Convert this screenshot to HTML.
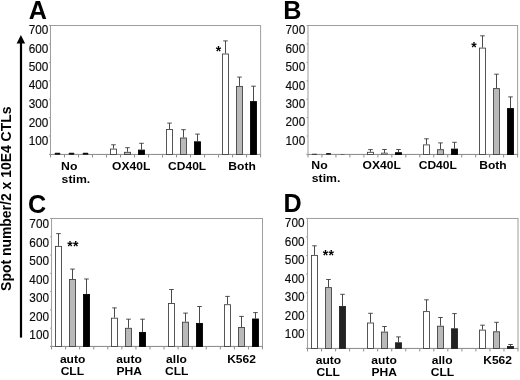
<!DOCTYPE html>
<html lang="en"><head><meta charset="utf-8"><title>Figure</title>
<style>
html,body{margin:0;padding:0;background:#fff;}
body{width:520px;height:380px;overflow:hidden;}
svg{display:block;filter:blur(0.25px);}
svg text{font-family:"Liberation Sans", sans-serif;}
</style></head><body>
<svg width="520" height="380" viewBox="0 0 520 380">
<rect width="520" height="380" fill="#fff"/>
<g class="chart" id="chartA">
<rect x="50.50" y="25.50" width="210.10" height="128.95" fill="none" stroke="#9e9e9e" stroke-width="1"/>
<line x1="49.00" y1="154.45" x2="260.60" y2="154.45" stroke="#909090" stroke-width="1"/>
<line x1="50.50" y1="154.45" x2="50.50" y2="157.45" stroke="#8c8c8c" stroke-width="1"/>
<line x1="64.51" y1="154.45" x2="64.51" y2="157.45" stroke="#8c8c8c" stroke-width="1"/>
<line x1="78.51" y1="154.45" x2="78.51" y2="157.45" stroke="#8c8c8c" stroke-width="1"/>
<line x1="92.52" y1="154.45" x2="92.52" y2="157.45" stroke="#8c8c8c" stroke-width="1"/>
<line x1="106.53" y1="154.45" x2="106.53" y2="157.45" stroke="#8c8c8c" stroke-width="1"/>
<line x1="120.53" y1="154.45" x2="120.53" y2="157.45" stroke="#8c8c8c" stroke-width="1"/>
<line x1="134.54" y1="154.45" x2="134.54" y2="157.45" stroke="#8c8c8c" stroke-width="1"/>
<line x1="148.55" y1="154.45" x2="148.55" y2="157.45" stroke="#8c8c8c" stroke-width="1"/>
<line x1="162.55" y1="154.45" x2="162.55" y2="157.45" stroke="#8c8c8c" stroke-width="1"/>
<line x1="176.56" y1="154.45" x2="176.56" y2="157.45" stroke="#8c8c8c" stroke-width="1"/>
<line x1="190.57" y1="154.45" x2="190.57" y2="157.45" stroke="#8c8c8c" stroke-width="1"/>
<line x1="204.57" y1="154.45" x2="204.57" y2="157.45" stroke="#8c8c8c" stroke-width="1"/>
<line x1="218.58" y1="154.45" x2="218.58" y2="157.45" stroke="#8c8c8c" stroke-width="1"/>
<line x1="232.59" y1="154.45" x2="232.59" y2="157.45" stroke="#8c8c8c" stroke-width="1"/>
<line x1="246.59" y1="154.45" x2="246.59" y2="157.45" stroke="#8c8c8c" stroke-width="1"/>
<line x1="260.60" y1="154.45" x2="260.60" y2="157.45" stroke="#8c8c8c" stroke-width="1"/>
<line x1="49.00" y1="154.45" x2="50.50" y2="154.45" stroke="#9a9a9a" stroke-width="0.9"/>
<line x1="49.00" y1="136.03" x2="50.50" y2="136.03" stroke="#9a9a9a" stroke-width="0.9"/>
<line x1="49.00" y1="117.61" x2="50.50" y2="117.61" stroke="#9a9a9a" stroke-width="0.9"/>
<line x1="49.00" y1="99.19" x2="50.50" y2="99.19" stroke="#9a9a9a" stroke-width="0.9"/>
<line x1="49.00" y1="80.76" x2="50.50" y2="80.76" stroke="#9a9a9a" stroke-width="0.9"/>
<line x1="49.00" y1="62.34" x2="50.50" y2="62.34" stroke="#9a9a9a" stroke-width="0.9"/>
<line x1="49.00" y1="43.92" x2="50.50" y2="43.92" stroke="#9a9a9a" stroke-width="0.9"/>
<line x1="49.00" y1="25.50" x2="50.50" y2="25.50" stroke="#9a9a9a" stroke-width="0.9"/>
<rect x="54.70" y="152.75" width="5.60" height="2.00" rx="0.7" fill="#111"/>
<rect x="68.70" y="152.75" width="5.60" height="2.00" rx="0.7" fill="#111"/>
<rect x="82.70" y="152.75" width="5.60" height="2.00" rx="0.7" fill="#111"/>
<line x1="113.50" y1="144.80" x2="113.50" y2="148.60" stroke="#4a4a4a" stroke-width="1"/>
<line x1="111.20" y1="144.80" x2="115.80" y2="144.80" stroke="#3c3c3c" stroke-width="0.9"/>
<rect x="110.50" y="149.10" width="6" height="5.35" fill="#fff" stroke="#404040" stroke-width="0.88"/>
<line x1="127.50" y1="147.70" x2="127.50" y2="151.80" stroke="#4a4a4a" stroke-width="1"/>
<line x1="125.20" y1="147.70" x2="129.80" y2="147.70" stroke="#3c3c3c" stroke-width="0.9"/>
<rect x="124.50" y="152.30" width="6" height="2.15" fill="#b9b9b9" stroke="#404040" stroke-width="0.88"/>
<line x1="141.50" y1="143.30" x2="141.50" y2="149.60" stroke="#4a4a4a" stroke-width="1"/>
<line x1="139.20" y1="143.30" x2="143.80" y2="143.30" stroke="#3c3c3c" stroke-width="0.9"/>
<rect x="138.50" y="150.10" width="6" height="4.35" fill="#000" stroke="#000" stroke-width="0.88"/>
<line x1="169.50" y1="123.10" x2="169.50" y2="129.00" stroke="#4a4a4a" stroke-width="1"/>
<line x1="167.20" y1="123.10" x2="171.80" y2="123.10" stroke="#3c3c3c" stroke-width="0.9"/>
<rect x="166.50" y="129.50" width="6" height="24.95" fill="#fff" stroke="#404040" stroke-width="0.88"/>
<line x1="183.50" y1="129.70" x2="183.50" y2="137.50" stroke="#4a4a4a" stroke-width="1"/>
<line x1="181.20" y1="129.70" x2="185.80" y2="129.70" stroke="#3c3c3c" stroke-width="0.9"/>
<rect x="180.50" y="138.00" width="6" height="16.45" fill="#b9b9b9" stroke="#404040" stroke-width="0.88"/>
<line x1="197.50" y1="134.10" x2="197.50" y2="141.30" stroke="#4a4a4a" stroke-width="1"/>
<line x1="195.20" y1="134.10" x2="199.80" y2="134.10" stroke="#3c3c3c" stroke-width="0.9"/>
<rect x="194.50" y="141.80" width="6" height="12.65" fill="#000" stroke="#000" stroke-width="0.88"/>
<line x1="225.50" y1="40.90" x2="225.50" y2="53.50" stroke="#4a4a4a" stroke-width="1"/>
<line x1="223.20" y1="40.90" x2="227.80" y2="40.90" stroke="#3c3c3c" stroke-width="0.9"/>
<rect x="222.50" y="54.00" width="6" height="100.45" fill="#fff" stroke="#404040" stroke-width="0.88"/>
<line x1="239.50" y1="77.10" x2="239.50" y2="85.90" stroke="#4a4a4a" stroke-width="1"/>
<line x1="237.20" y1="77.10" x2="241.80" y2="77.10" stroke="#3c3c3c" stroke-width="0.9"/>
<rect x="236.50" y="86.40" width="6" height="68.05" fill="#b9b9b9" stroke="#404040" stroke-width="0.88"/>
<line x1="253.50" y1="86.20" x2="253.50" y2="101.10" stroke="#4a4a4a" stroke-width="1"/>
<line x1="251.20" y1="86.20" x2="255.80" y2="86.20" stroke="#3c3c3c" stroke-width="0.9"/>
<rect x="250.50" y="101.60" width="6" height="52.85" fill="#000" stroke="#000" stroke-width="0.88"/>
<text transform="translate(48.40,33.80) scale(0.95,1)" text-anchor="end" font-size="12.4" fill="#0a0a0a" stroke="#0a0a0a" stroke-width="0.15">700</text>
<text transform="translate(48.40,53.10) scale(0.95,1)" text-anchor="end" font-size="12.4" fill="#0a0a0a" stroke="#0a0a0a" stroke-width="0.15">600</text>
<text transform="translate(48.40,71.20) scale(0.95,1)" text-anchor="end" font-size="12.4" fill="#0a0a0a" stroke="#0a0a0a" stroke-width="0.15">500</text>
<text transform="translate(48.40,89.30) scale(0.95,1)" text-anchor="end" font-size="12.4" fill="#0a0a0a" stroke="#0a0a0a" stroke-width="0.15">400</text>
<text transform="translate(48.40,108.30) scale(0.95,1)" text-anchor="end" font-size="12.4" fill="#0a0a0a" stroke="#0a0a0a" stroke-width="0.15">300</text>
<text transform="translate(48.40,126.60) scale(0.95,1)" text-anchor="end" font-size="12.4" fill="#0a0a0a" stroke="#0a0a0a" stroke-width="0.15">200</text>
<text transform="translate(48.40,144.80) scale(0.95,1)" text-anchor="end" font-size="12.4" fill="#0a0a0a" stroke="#0a0a0a" stroke-width="0.15">100</text>
</g>
<g class="chart" id="chartB">
<rect x="308.00" y="25.50" width="209.60" height="128.95" fill="none" stroke="#9e9e9e" stroke-width="1"/>
<line x1="306.50" y1="154.45" x2="517.60" y2="154.45" stroke="#909090" stroke-width="1"/>
<line x1="308.00" y1="154.45" x2="308.00" y2="157.45" stroke="#8c8c8c" stroke-width="1"/>
<line x1="321.97" y1="154.45" x2="321.97" y2="157.45" stroke="#8c8c8c" stroke-width="1"/>
<line x1="335.95" y1="154.45" x2="335.95" y2="157.45" stroke="#8c8c8c" stroke-width="1"/>
<line x1="349.92" y1="154.45" x2="349.92" y2="157.45" stroke="#8c8c8c" stroke-width="1"/>
<line x1="363.89" y1="154.45" x2="363.89" y2="157.45" stroke="#8c8c8c" stroke-width="1"/>
<line x1="377.87" y1="154.45" x2="377.87" y2="157.45" stroke="#8c8c8c" stroke-width="1"/>
<line x1="391.84" y1="154.45" x2="391.84" y2="157.45" stroke="#8c8c8c" stroke-width="1"/>
<line x1="405.81" y1="154.45" x2="405.81" y2="157.45" stroke="#8c8c8c" stroke-width="1"/>
<line x1="419.79" y1="154.45" x2="419.79" y2="157.45" stroke="#8c8c8c" stroke-width="1"/>
<line x1="433.76" y1="154.45" x2="433.76" y2="157.45" stroke="#8c8c8c" stroke-width="1"/>
<line x1="447.73" y1="154.45" x2="447.73" y2="157.45" stroke="#8c8c8c" stroke-width="1"/>
<line x1="461.71" y1="154.45" x2="461.71" y2="157.45" stroke="#8c8c8c" stroke-width="1"/>
<line x1="475.68" y1="154.45" x2="475.68" y2="157.45" stroke="#8c8c8c" stroke-width="1"/>
<line x1="489.65" y1="154.45" x2="489.65" y2="157.45" stroke="#8c8c8c" stroke-width="1"/>
<line x1="503.63" y1="154.45" x2="503.63" y2="157.45" stroke="#8c8c8c" stroke-width="1"/>
<line x1="517.60" y1="154.45" x2="517.60" y2="157.45" stroke="#8c8c8c" stroke-width="1"/>
<line x1="306.50" y1="154.45" x2="308.00" y2="154.45" stroke="#9a9a9a" stroke-width="0.9"/>
<line x1="306.50" y1="136.03" x2="308.00" y2="136.03" stroke="#9a9a9a" stroke-width="0.9"/>
<line x1="306.50" y1="117.61" x2="308.00" y2="117.61" stroke="#9a9a9a" stroke-width="0.9"/>
<line x1="306.50" y1="99.19" x2="308.00" y2="99.19" stroke="#9a9a9a" stroke-width="0.9"/>
<line x1="306.50" y1="80.76" x2="308.00" y2="80.76" stroke="#9a9a9a" stroke-width="0.9"/>
<line x1="306.50" y1="62.34" x2="308.00" y2="62.34" stroke="#9a9a9a" stroke-width="0.9"/>
<line x1="306.50" y1="43.92" x2="308.00" y2="43.92" stroke="#9a9a9a" stroke-width="0.9"/>
<line x1="306.50" y1="25.50" x2="308.00" y2="25.50" stroke="#9a9a9a" stroke-width="0.9"/>
<rect x="311.80" y="153.65" width="5.40" height="1.10" rx="0.7" fill="#333"/>
<rect x="326.00" y="153.05" width="5.00" height="1.70" rx="0.7" fill="#222"/>
<rect x="340.30" y="153.95" width="4.40" height="0.80" rx="0.7" fill="#555"/>
<line x1="370.50" y1="149.60" x2="370.50" y2="151.80" stroke="#4a4a4a" stroke-width="1"/>
<line x1="368.20" y1="149.60" x2="372.80" y2="149.60" stroke="#3c3c3c" stroke-width="0.9"/>
<rect x="367.50" y="152.30" width="6" height="2.15" fill="#fff" stroke="#404040" stroke-width="0.88"/>
<line x1="384.50" y1="149.50" x2="384.50" y2="153.00" stroke="#4a4a4a" stroke-width="1"/>
<line x1="382.20" y1="149.50" x2="386.80" y2="149.50" stroke="#3c3c3c" stroke-width="0.9"/>
<rect x="381.50" y="153.00" width="6.00" height="1.45" fill="#b9b9b9" stroke="#404040" stroke-width="0.6"/>
<line x1="398.50" y1="149.50" x2="398.50" y2="152.20" stroke="#4a4a4a" stroke-width="1"/>
<line x1="396.20" y1="149.50" x2="400.80" y2="149.50" stroke="#3c3c3c" stroke-width="0.9"/>
<rect x="395.50" y="152.70" width="6" height="1.75" fill="#000" stroke="#000" stroke-width="0.88"/>
<line x1="426.50" y1="138.80" x2="426.50" y2="144.40" stroke="#4a4a4a" stroke-width="1"/>
<line x1="424.20" y1="138.80" x2="428.80" y2="138.80" stroke="#3c3c3c" stroke-width="0.9"/>
<rect x="423.50" y="144.90" width="6" height="9.55" fill="#fff" stroke="#404040" stroke-width="0.88"/>
<line x1="440.50" y1="142.90" x2="440.50" y2="149.20" stroke="#4a4a4a" stroke-width="1"/>
<line x1="438.20" y1="142.90" x2="442.80" y2="142.90" stroke="#3c3c3c" stroke-width="0.9"/>
<rect x="437.50" y="149.70" width="6" height="4.75" fill="#b9b9b9" stroke="#404040" stroke-width="0.88"/>
<line x1="454.50" y1="142.30" x2="454.50" y2="148.60" stroke="#4a4a4a" stroke-width="1"/>
<line x1="452.20" y1="142.30" x2="456.80" y2="142.30" stroke="#3c3c3c" stroke-width="0.9"/>
<rect x="451.50" y="149.10" width="6" height="5.35" fill="#000" stroke="#000" stroke-width="0.88"/>
<line x1="482.50" y1="35.80" x2="482.50" y2="47.60" stroke="#4a4a4a" stroke-width="1"/>
<line x1="480.20" y1="35.80" x2="484.80" y2="35.80" stroke="#3c3c3c" stroke-width="0.9"/>
<rect x="479.50" y="48.10" width="6" height="106.35" fill="#fff" stroke="#404040" stroke-width="0.88"/>
<line x1="496.50" y1="74.20" x2="496.50" y2="88.10" stroke="#4a4a4a" stroke-width="1"/>
<line x1="494.20" y1="74.20" x2="498.80" y2="74.20" stroke="#3c3c3c" stroke-width="0.9"/>
<rect x="493.50" y="88.60" width="6" height="65.85" fill="#b9b9b9" stroke="#404040" stroke-width="0.88"/>
<line x1="510.50" y1="96.90" x2="510.50" y2="108.10" stroke="#4a4a4a" stroke-width="1"/>
<line x1="508.20" y1="96.90" x2="512.80" y2="96.90" stroke="#3c3c3c" stroke-width="0.9"/>
<rect x="507.50" y="108.60" width="6" height="45.85" fill="#000" stroke="#000" stroke-width="0.88"/>
<text transform="translate(305.20,34.20) scale(0.95,1)" text-anchor="end" font-size="12.4" fill="#0a0a0a" stroke="#0a0a0a" stroke-width="0.15">700</text>
<text transform="translate(305.20,52.90) scale(0.95,1)" text-anchor="end" font-size="12.4" fill="#0a0a0a" stroke="#0a0a0a" stroke-width="0.15">600</text>
<text transform="translate(305.20,70.70) scale(0.95,1)" text-anchor="end" font-size="12.4" fill="#0a0a0a" stroke="#0a0a0a" stroke-width="0.15">500</text>
<text transform="translate(305.20,89.60) scale(0.95,1)" text-anchor="end" font-size="12.4" fill="#0a0a0a" stroke="#0a0a0a" stroke-width="0.15">400</text>
<text transform="translate(305.20,107.80) scale(0.95,1)" text-anchor="end" font-size="12.4" fill="#0a0a0a" stroke="#0a0a0a" stroke-width="0.15">300</text>
<text transform="translate(305.20,126.30) scale(0.95,1)" text-anchor="end" font-size="12.4" fill="#0a0a0a" stroke="#0a0a0a" stroke-width="0.15">200</text>
<text transform="translate(305.20,144.60) scale(0.95,1)" text-anchor="end" font-size="12.4" fill="#0a0a0a" stroke="#0a0a0a" stroke-width="0.15">100</text>
</g>
<g class="chart" id="chartC">
<rect x="51.55" y="218.50" width="210.95" height="127.95" fill="none" stroke="#9e9e9e" stroke-width="1"/>
<line x1="50.05" y1="346.45" x2="262.50" y2="346.45" stroke="#909090" stroke-width="1"/>
<line x1="51.55" y1="346.45" x2="51.55" y2="349.45" stroke="#8c8c8c" stroke-width="1"/>
<line x1="65.61" y1="346.45" x2="65.61" y2="349.45" stroke="#8c8c8c" stroke-width="1"/>
<line x1="79.68" y1="346.45" x2="79.68" y2="349.45" stroke="#8c8c8c" stroke-width="1"/>
<line x1="93.74" y1="346.45" x2="93.74" y2="349.45" stroke="#8c8c8c" stroke-width="1"/>
<line x1="107.80" y1="346.45" x2="107.80" y2="349.45" stroke="#8c8c8c" stroke-width="1"/>
<line x1="121.87" y1="346.45" x2="121.87" y2="349.45" stroke="#8c8c8c" stroke-width="1"/>
<line x1="135.93" y1="346.45" x2="135.93" y2="349.45" stroke="#8c8c8c" stroke-width="1"/>
<line x1="149.99" y1="346.45" x2="149.99" y2="349.45" stroke="#8c8c8c" stroke-width="1"/>
<line x1="164.06" y1="346.45" x2="164.06" y2="349.45" stroke="#8c8c8c" stroke-width="1"/>
<line x1="178.12" y1="346.45" x2="178.12" y2="349.45" stroke="#8c8c8c" stroke-width="1"/>
<line x1="192.18" y1="346.45" x2="192.18" y2="349.45" stroke="#8c8c8c" stroke-width="1"/>
<line x1="206.25" y1="346.45" x2="206.25" y2="349.45" stroke="#8c8c8c" stroke-width="1"/>
<line x1="220.31" y1="346.45" x2="220.31" y2="349.45" stroke="#8c8c8c" stroke-width="1"/>
<line x1="234.37" y1="346.45" x2="234.37" y2="349.45" stroke="#8c8c8c" stroke-width="1"/>
<line x1="248.44" y1="346.45" x2="248.44" y2="349.45" stroke="#8c8c8c" stroke-width="1"/>
<line x1="262.50" y1="346.45" x2="262.50" y2="349.45" stroke="#8c8c8c" stroke-width="1"/>
<line x1="50.05" y1="346.45" x2="51.55" y2="346.45" stroke="#9a9a9a" stroke-width="0.9"/>
<line x1="50.05" y1="328.17" x2="51.55" y2="328.17" stroke="#9a9a9a" stroke-width="0.9"/>
<line x1="50.05" y1="309.89" x2="51.55" y2="309.89" stroke="#9a9a9a" stroke-width="0.9"/>
<line x1="50.05" y1="291.61" x2="51.55" y2="291.61" stroke="#9a9a9a" stroke-width="0.9"/>
<line x1="50.05" y1="273.34" x2="51.55" y2="273.34" stroke="#9a9a9a" stroke-width="0.9"/>
<line x1="50.05" y1="255.06" x2="51.55" y2="255.06" stroke="#9a9a9a" stroke-width="0.9"/>
<line x1="50.05" y1="236.78" x2="51.55" y2="236.78" stroke="#9a9a9a" stroke-width="0.9"/>
<line x1="50.05" y1="218.50" x2="51.55" y2="218.50" stroke="#9a9a9a" stroke-width="0.9"/>
<line x1="58.50" y1="233.60" x2="58.50" y2="245.90" stroke="#4a4a4a" stroke-width="1"/>
<line x1="56.20" y1="233.60" x2="60.80" y2="233.60" stroke="#3c3c3c" stroke-width="0.9"/>
<rect x="55.50" y="246.40" width="6" height="100.05" fill="#fff" stroke="#404040" stroke-width="0.88"/>
<line x1="72.50" y1="269.10" x2="72.50" y2="279.00" stroke="#4a4a4a" stroke-width="1"/>
<line x1="70.20" y1="269.10" x2="74.80" y2="269.10" stroke="#3c3c3c" stroke-width="0.9"/>
<rect x="69.50" y="279.50" width="6" height="66.95" fill="#b9b9b9" stroke="#404040" stroke-width="0.88"/>
<line x1="86.50" y1="279.00" x2="86.50" y2="293.90" stroke="#4a4a4a" stroke-width="1"/>
<line x1="84.20" y1="279.00" x2="88.80" y2="279.00" stroke="#3c3c3c" stroke-width="0.9"/>
<rect x="83.50" y="294.40" width="6" height="52.05" fill="#000" stroke="#000" stroke-width="0.88"/>
<line x1="114.50" y1="307.90" x2="114.50" y2="317.70" stroke="#4a4a4a" stroke-width="1"/>
<line x1="112.20" y1="307.90" x2="116.80" y2="307.90" stroke="#3c3c3c" stroke-width="0.9"/>
<rect x="111.50" y="318.20" width="6" height="28.25" fill="#fff" stroke="#404040" stroke-width="0.88"/>
<line x1="128.50" y1="319.20" x2="128.50" y2="327.80" stroke="#4a4a4a" stroke-width="1"/>
<line x1="126.20" y1="319.20" x2="130.80" y2="319.20" stroke="#3c3c3c" stroke-width="0.9"/>
<rect x="125.50" y="328.30" width="6" height="18.15" fill="#b9b9b9" stroke="#404040" stroke-width="0.88"/>
<line x1="142.50" y1="319.20" x2="142.50" y2="331.90" stroke="#4a4a4a" stroke-width="1"/>
<line x1="140.20" y1="319.20" x2="144.80" y2="319.20" stroke="#3c3c3c" stroke-width="0.9"/>
<rect x="139.50" y="332.40" width="6" height="14.05" fill="#000" stroke="#000" stroke-width="0.88"/>
<line x1="171.50" y1="289.50" x2="171.50" y2="303.00" stroke="#4a4a4a" stroke-width="1"/>
<line x1="169.20" y1="289.50" x2="173.80" y2="289.50" stroke="#3c3c3c" stroke-width="0.9"/>
<rect x="168.50" y="303.50" width="6" height="42.95" fill="#fff" stroke="#404040" stroke-width="0.88"/>
<line x1="185.50" y1="313.10" x2="185.50" y2="321.70" stroke="#4a4a4a" stroke-width="1"/>
<line x1="183.20" y1="313.10" x2="187.80" y2="313.10" stroke="#3c3c3c" stroke-width="0.9"/>
<rect x="182.50" y="322.20" width="6" height="24.25" fill="#b9b9b9" stroke="#404040" stroke-width="0.88"/>
<line x1="199.50" y1="306.50" x2="199.50" y2="322.90" stroke="#4a4a4a" stroke-width="1"/>
<line x1="197.20" y1="306.50" x2="201.80" y2="306.50" stroke="#3c3c3c" stroke-width="0.9"/>
<rect x="196.50" y="323.40" width="6" height="23.05" fill="#000" stroke="#000" stroke-width="0.88"/>
<line x1="227.50" y1="296.40" x2="227.50" y2="304.20" stroke="#4a4a4a" stroke-width="1"/>
<line x1="225.20" y1="296.40" x2="229.80" y2="296.40" stroke="#3c3c3c" stroke-width="0.9"/>
<rect x="224.50" y="304.70" width="6" height="41.75" fill="#fff" stroke="#404040" stroke-width="0.88"/>
<line x1="241.50" y1="316.40" x2="241.50" y2="327.00" stroke="#4a4a4a" stroke-width="1"/>
<line x1="239.20" y1="316.40" x2="243.80" y2="316.40" stroke="#3c3c3c" stroke-width="0.9"/>
<rect x="238.50" y="327.50" width="6" height="18.95" fill="#b9b9b9" stroke="#404040" stroke-width="0.88"/>
<line x1="255.50" y1="312.60" x2="255.50" y2="318.50" stroke="#4a4a4a" stroke-width="1"/>
<line x1="253.20" y1="312.60" x2="257.80" y2="312.60" stroke="#3c3c3c" stroke-width="0.9"/>
<rect x="252.50" y="319.00" width="6" height="27.45" fill="#000" stroke="#000" stroke-width="0.88"/>
<text transform="translate(49.00,228.40) scale(0.95,1)" text-anchor="end" font-size="12.4" fill="#0a0a0a" stroke="#0a0a0a" stroke-width="0.15">700</text>
<text transform="translate(49.00,246.93) scale(0.95,1)" text-anchor="end" font-size="12.4" fill="#0a0a0a" stroke="#0a0a0a" stroke-width="0.15">600</text>
<text transform="translate(49.00,265.16) scale(0.95,1)" text-anchor="end" font-size="12.4" fill="#0a0a0a" stroke="#0a0a0a" stroke-width="0.15">500</text>
<text transform="translate(49.00,284.09) scale(0.95,1)" text-anchor="end" font-size="12.4" fill="#0a0a0a" stroke="#0a0a0a" stroke-width="0.15">400</text>
<text transform="translate(49.00,302.22) scale(0.95,1)" text-anchor="end" font-size="12.4" fill="#0a0a0a" stroke="#0a0a0a" stroke-width="0.15">300</text>
<text transform="translate(49.00,321.05) scale(0.95,1)" text-anchor="end" font-size="12.4" fill="#0a0a0a" stroke="#0a0a0a" stroke-width="0.15">200</text>
<text transform="translate(49.00,338.98) scale(0.95,1)" text-anchor="end" font-size="12.4" fill="#0a0a0a" stroke="#0a0a0a" stroke-width="0.15">100</text>
</g>
<g class="chart" id="chartD">
<rect x="307.55" y="218.45" width="210.45" height="130.00" fill="none" stroke="#9e9e9e" stroke-width="1"/>
<line x1="306.05" y1="348.45" x2="518.00" y2="348.45" stroke="#909090" stroke-width="1"/>
<line x1="307.55" y1="348.45" x2="307.55" y2="351.45" stroke="#8c8c8c" stroke-width="1"/>
<line x1="321.58" y1="348.45" x2="321.58" y2="351.45" stroke="#8c8c8c" stroke-width="1"/>
<line x1="335.61" y1="348.45" x2="335.61" y2="351.45" stroke="#8c8c8c" stroke-width="1"/>
<line x1="349.64" y1="348.45" x2="349.64" y2="351.45" stroke="#8c8c8c" stroke-width="1"/>
<line x1="363.67" y1="348.45" x2="363.67" y2="351.45" stroke="#8c8c8c" stroke-width="1"/>
<line x1="377.70" y1="348.45" x2="377.70" y2="351.45" stroke="#8c8c8c" stroke-width="1"/>
<line x1="391.73" y1="348.45" x2="391.73" y2="351.45" stroke="#8c8c8c" stroke-width="1"/>
<line x1="405.76" y1="348.45" x2="405.76" y2="351.45" stroke="#8c8c8c" stroke-width="1"/>
<line x1="419.79" y1="348.45" x2="419.79" y2="351.45" stroke="#8c8c8c" stroke-width="1"/>
<line x1="433.82" y1="348.45" x2="433.82" y2="351.45" stroke="#8c8c8c" stroke-width="1"/>
<line x1="447.85" y1="348.45" x2="447.85" y2="351.45" stroke="#8c8c8c" stroke-width="1"/>
<line x1="461.88" y1="348.45" x2="461.88" y2="351.45" stroke="#8c8c8c" stroke-width="1"/>
<line x1="475.91" y1="348.45" x2="475.91" y2="351.45" stroke="#8c8c8c" stroke-width="1"/>
<line x1="489.94" y1="348.45" x2="489.94" y2="351.45" stroke="#8c8c8c" stroke-width="1"/>
<line x1="503.97" y1="348.45" x2="503.97" y2="351.45" stroke="#8c8c8c" stroke-width="1"/>
<line x1="518.00" y1="348.45" x2="518.00" y2="351.45" stroke="#8c8c8c" stroke-width="1"/>
<line x1="306.05" y1="348.45" x2="307.55" y2="348.45" stroke="#9a9a9a" stroke-width="0.9"/>
<line x1="306.05" y1="329.88" x2="307.55" y2="329.88" stroke="#9a9a9a" stroke-width="0.9"/>
<line x1="306.05" y1="311.31" x2="307.55" y2="311.31" stroke="#9a9a9a" stroke-width="0.9"/>
<line x1="306.05" y1="292.74" x2="307.55" y2="292.74" stroke="#9a9a9a" stroke-width="0.9"/>
<line x1="306.05" y1="274.16" x2="307.55" y2="274.16" stroke="#9a9a9a" stroke-width="0.9"/>
<line x1="306.05" y1="255.59" x2="307.55" y2="255.59" stroke="#9a9a9a" stroke-width="0.9"/>
<line x1="306.05" y1="237.02" x2="307.55" y2="237.02" stroke="#9a9a9a" stroke-width="0.9"/>
<line x1="306.05" y1="218.45" x2="307.55" y2="218.45" stroke="#9a9a9a" stroke-width="0.9"/>
<line x1="314.50" y1="245.80" x2="314.50" y2="254.90" stroke="#4a4a4a" stroke-width="1"/>
<line x1="312.20" y1="245.80" x2="316.80" y2="245.80" stroke="#3c3c3c" stroke-width="0.9"/>
<rect x="311.50" y="255.40" width="6" height="93.05" fill="#fff" stroke="#404040" stroke-width="0.88"/>
<line x1="328.50" y1="279.50" x2="328.50" y2="287.10" stroke="#4a4a4a" stroke-width="1"/>
<line x1="326.20" y1="279.50" x2="330.80" y2="279.50" stroke="#3c3c3c" stroke-width="0.9"/>
<rect x="325.50" y="287.60" width="6" height="60.85" fill="#b9b9b9" stroke="#404040" stroke-width="0.88"/>
<line x1="342.50" y1="294.30" x2="342.50" y2="306.00" stroke="#4a4a4a" stroke-width="1"/>
<line x1="340.20" y1="294.30" x2="344.80" y2="294.30" stroke="#3c3c3c" stroke-width="0.9"/>
<rect x="339.50" y="306.50" width="6" height="41.95" fill="#222" stroke="#222" stroke-width="0.88"/>
<line x1="370.50" y1="313.30" x2="370.50" y2="322.50" stroke="#4a4a4a" stroke-width="1"/>
<line x1="368.20" y1="313.30" x2="372.80" y2="313.30" stroke="#3c3c3c" stroke-width="0.9"/>
<rect x="367.50" y="323.00" width="6" height="25.45" fill="#fff" stroke="#404040" stroke-width="0.88"/>
<line x1="384.50" y1="326.50" x2="384.50" y2="331.60" stroke="#4a4a4a" stroke-width="1"/>
<line x1="382.20" y1="326.50" x2="386.80" y2="326.50" stroke="#3c3c3c" stroke-width="0.9"/>
<rect x="381.50" y="332.10" width="6" height="16.35" fill="#b9b9b9" stroke="#404040" stroke-width="0.88"/>
<line x1="398.50" y1="336.90" x2="398.50" y2="342.30" stroke="#4a4a4a" stroke-width="1"/>
<line x1="396.20" y1="336.90" x2="400.80" y2="336.90" stroke="#3c3c3c" stroke-width="0.9"/>
<rect x="395.50" y="342.80" width="6" height="5.65" fill="#222" stroke="#222" stroke-width="0.88"/>
<line x1="426.50" y1="299.80" x2="426.50" y2="311.10" stroke="#4a4a4a" stroke-width="1"/>
<line x1="424.20" y1="299.80" x2="428.80" y2="299.80" stroke="#3c3c3c" stroke-width="0.9"/>
<rect x="423.50" y="311.60" width="6" height="36.85" fill="#fff" stroke="#404040" stroke-width="0.88"/>
<line x1="440.50" y1="317.50" x2="440.50" y2="325.70" stroke="#4a4a4a" stroke-width="1"/>
<line x1="438.20" y1="317.50" x2="442.80" y2="317.50" stroke="#3c3c3c" stroke-width="0.9"/>
<rect x="437.50" y="326.20" width="6" height="22.25" fill="#b9b9b9" stroke="#404040" stroke-width="0.88"/>
<line x1="454.50" y1="313.60" x2="454.50" y2="328.30" stroke="#4a4a4a" stroke-width="1"/>
<line x1="452.20" y1="313.60" x2="456.80" y2="313.60" stroke="#3c3c3c" stroke-width="0.9"/>
<rect x="451.50" y="328.80" width="6" height="19.65" fill="#222" stroke="#222" stroke-width="0.88"/>
<line x1="482.50" y1="325.20" x2="482.50" y2="329.60" stroke="#4a4a4a" stroke-width="1"/>
<line x1="480.20" y1="325.20" x2="484.80" y2="325.20" stroke="#3c3c3c" stroke-width="0.9"/>
<rect x="479.50" y="330.10" width="6" height="18.35" fill="#fff" stroke="#404040" stroke-width="0.88"/>
<line x1="496.50" y1="322.30" x2="496.50" y2="331.30" stroke="#4a4a4a" stroke-width="1"/>
<line x1="494.20" y1="322.30" x2="498.80" y2="322.30" stroke="#3c3c3c" stroke-width="0.9"/>
<rect x="493.50" y="331.80" width="6" height="16.65" fill="#b9b9b9" stroke="#404040" stroke-width="0.88"/>
<line x1="510.50" y1="344.50" x2="510.50" y2="346.00" stroke="#4a4a4a" stroke-width="1"/>
<line x1="508.20" y1="344.50" x2="512.80" y2="344.50" stroke="#3c3c3c" stroke-width="0.9"/>
<rect x="507.50" y="346.50" width="6" height="1.95" fill="#222" stroke="#222" stroke-width="0.88"/>
<text transform="translate(304.50,227.20) scale(0.95,1)" text-anchor="end" font-size="12.4" fill="#0a0a0a" stroke="#0a0a0a" stroke-width="0.15">700</text>
<text transform="translate(304.50,245.85) scale(0.95,1)" text-anchor="end" font-size="12.4" fill="#0a0a0a" stroke="#0a0a0a" stroke-width="0.15">600</text>
<text transform="translate(304.50,264.45) scale(0.95,1)" text-anchor="end" font-size="12.4" fill="#0a0a0a" stroke="#0a0a0a" stroke-width="0.15">500</text>
<text transform="translate(304.50,282.55) scale(0.95,1)" text-anchor="end" font-size="12.4" fill="#0a0a0a" stroke="#0a0a0a" stroke-width="0.15">400</text>
<text transform="translate(304.50,301.20) scale(0.95,1)" text-anchor="end" font-size="12.4" fill="#0a0a0a" stroke="#0a0a0a" stroke-width="0.15">300</text>
<text transform="translate(304.50,320.15) scale(0.95,1)" text-anchor="end" font-size="12.4" fill="#0a0a0a" stroke="#0a0a0a" stroke-width="0.15">200</text>
<text transform="translate(304.50,337.90) scale(0.95,1)" text-anchor="end" font-size="12.4" fill="#0a0a0a" stroke="#0a0a0a" stroke-width="0.15">100</text>
</g>
<text transform="translate(61.10,169.80) scale(1.047,1)" text-anchor="start" font-size="11.71" font-weight="bold" fill="#000">No</text>
<text transform="translate(61.60,183.00) scale(1.047,1)" text-anchor="start" font-size="11.71" font-weight="bold" fill="#000">stim.</text>
<text transform="translate(131.20,169.80) scale(1.047,1)" text-anchor="middle" font-size="11.52" font-weight="bold" fill="#000">OX40L</text>
<text transform="translate(187.15,169.80) scale(1.047,1)" text-anchor="middle" font-size="11.52" font-weight="bold" fill="#000">CD40L</text>
<text transform="translate(242.05,169.80) scale(1.047,1)" text-anchor="middle" font-size="11.52" font-weight="bold" fill="#000">Both</text>
<text transform="translate(311.30,168.90) scale(1.047,1)" text-anchor="start" font-size="11.71" font-weight="bold" fill="#000">No</text>
<text transform="translate(311.80,182.20) scale(1.047,1)" text-anchor="start" font-size="11.71" font-weight="bold" fill="#000">stim.</text>
<text transform="translate(381.70,169.10) scale(1.047,1)" text-anchor="middle" font-size="11.52" font-weight="bold" fill="#000">OX40L</text>
<text transform="translate(437.80,168.90) scale(1.047,1)" text-anchor="middle" font-size="11.52" font-weight="bold" fill="#000">CD40L</text>
<text transform="translate(493.00,168.90) scale(1.047,1)" text-anchor="middle" font-size="11.52" font-weight="bold" fill="#000">Both</text>
<text transform="translate(72.60,362.90) scale(1.047,1)" text-anchor="middle" font-size="11.52" font-weight="bold" fill="#000">auto</text>
<text transform="translate(72.35,374.90) scale(1.047,1)" text-anchor="middle" font-size="11.52" font-weight="bold" fill="#000">CLL</text>
<text transform="translate(129.05,362.90) scale(1.047,1)" text-anchor="middle" font-size="11.52" font-weight="bold" fill="#000">auto</text>
<text transform="translate(129.20,374.90) scale(1.047,1)" text-anchor="middle" font-size="11.52" font-weight="bold" fill="#000">PHA</text>
<text transform="translate(176.45,362.90) scale(1.047,1)" text-anchor="middle" font-size="11.52" font-weight="bold" fill="#000">allo</text>
<text transform="translate(176.65,374.90) scale(1.047,1)" text-anchor="middle" font-size="11.52" font-weight="bold" fill="#000">CLL</text>
<text transform="translate(241.55,362.90) scale(1.047,1)" text-anchor="middle" font-size="11.52" font-weight="bold" fill="#000">K562</text>
<text transform="translate(328.50,363.60) scale(1.047,1)" text-anchor="middle" font-size="11.52" font-weight="bold" fill="#000">auto</text>
<text transform="translate(328.25,375.90) scale(1.047,1)" text-anchor="middle" font-size="11.52" font-weight="bold" fill="#000">CLL</text>
<text transform="translate(384.05,363.60) scale(1.047,1)" text-anchor="middle" font-size="11.52" font-weight="bold" fill="#000">auto</text>
<text transform="translate(384.20,375.90) scale(1.047,1)" text-anchor="middle" font-size="11.52" font-weight="bold" fill="#000">PHA</text>
<text transform="translate(442.15,363.60) scale(1.047,1)" text-anchor="middle" font-size="11.52" font-weight="bold" fill="#000">allo</text>
<text transform="translate(442.40,375.90) scale(1.047,1)" text-anchor="middle" font-size="11.52" font-weight="bold" fill="#000">CLL</text>
<text transform="translate(497.60,363.60) scale(1.047,1)" text-anchor="middle" font-size="11.52" font-weight="bold" fill="#000">K562</text>
<text x="28.70" y="19.30" font-size="25.2" font-weight="bold" fill="#000">A</text>
<text x="283.30" y="19.30" font-size="25.2" font-weight="bold" fill="#000">B</text>
<text x="28.00" y="212.90" font-size="25.2" font-weight="bold" fill="#000">C</text>
<text x="283.50" y="212.20" font-size="25.2" font-weight="bold" fill="#000">D</text>
<text x="218.70" y="56.20" text-anchor="middle" font-size="14" font-weight="bold" letter-spacing="0.3" fill="#000">*</text>
<text x="474.20" y="51.70" text-anchor="middle" font-size="14" font-weight="bold" letter-spacing="0.3" fill="#000">*</text>
<text x="73.00" y="250.80" text-anchor="middle" font-size="14" font-weight="bold" letter-spacing="0.3" fill="#000">**</text>
<text x="328.55" y="260.10" text-anchor="middle" font-size="14" font-weight="bold" letter-spacing="0.3" fill="#000">**</text>
<rect x="19.9" y="42" width="2.2" height="295.6" fill="#000"/>
<polygon points="20.9,35.1 16.6,43.6 25.1,43.6" fill="#000"/>
<text transform="translate(11.2,290.9) rotate(-90)" font-size="13.95" font-weight="bold" fill="#000" id="ytitle">Spot number/2 x 10E4 CTLs</text>
</svg>
</body></html>
